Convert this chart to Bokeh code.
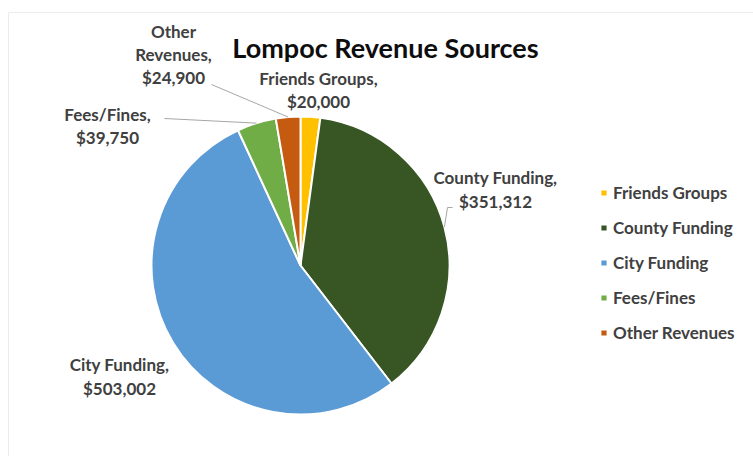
import numpy as np
from bokeh.plotting import figure
from bokeh.models import Range1d, Legend, LegendItem, ColumnDataSource, Label, Span
from bokeh.core.properties import value
from bokeh.embed import file_html
from bokeh.resources import INLINE

# ---- data ----
categories = ["Friends Groups", "County Funding", "City Funding", "Fees/Fines", "Other Revenues"]
values = [20000, 351312, 503002, 39750, 24900]
colors = ["#FFC000", "#375623", "#5B9BD5", "#70AD47", "#C55A11"]
chart_title = "Lompoc Revenue Sources"

# ---- layout (pixels) ----
W, H = 753, 456
LEFT, TOP = 8, 12
FW, FH = W - LEFT, H - TOP
CX, CY = 300 - LEFT, H - 265   # pie centre
R = 149
FONT = "Lato"
TXT = "#404040"

# label block centres as offsets from pie centre (screen px, y down)
label_off = [(18, -175.5), (195, -76), (-181, 111), (-193, -139.5), (-127, -211)]
label_wrap = [False, False, False, False, True]
# leader line start points (offsets from centre), None = no leader
leader_pts = [None, [(152, -58), (147, -58)], None, [(-136, -147)], [(-89, -181)]]

p = figure(width=W, height=H, output_backend="svg", toolbar_location=None,
           x_range=Range1d(0, FW), y_range=Range1d(0, FH),
           x_axis_type=None, y_axis_type=None,
           min_border_left=LEFT, min_border_right=0, min_border_bottom=0, min_border_top=TOP)
p.grid.visible = False
p.outline_line_color = None
p.background_fill_color = "white"
p.add_layout(Span(location=0, dimension="height", line_color="#d9d9d9", line_width=1))
p.add_layout(Span(location=FH, dimension="width", line_color="#d9d9d9", line_width=1))

vals = np.array(values, dtype=float)
frac = vals / vals.sum()
cum = np.concatenate([[0.0], np.cumsum(frac)])
start = np.pi / 2 - 2 * np.pi * cum[:-1]
end = np.pi / 2 - 2 * np.pi * cum[1:]
mid = (start + end) / 2

src = ColumnDataSource(dict(cat=categories, start=start, end=end, color=colors))
wr = p.wedge(x=CX, y=CY, radius=R, start_angle="start", end_angle="end",
             direction="clock", fill_color="color", line_color="white", line_width=2,
             source=src)

# leader lines
lxs, lys = [], []
for i, pts in enumerate(leader_pts):
    if pts is None:
        continue
    xs = [CX + dx for dx, dy in pts] + [CX + R * np.cos(mid[i])]
    ys = [CY - dy for dx, dy in pts] + [CY + R * np.sin(mid[i])]
    lxs.append(xs)
    lys.append(ys)
p.multi_line(xs=lxs, ys=lys, line_color="#a6a6a6", line_width=1)

# data labels
texts = []
for c, v, wflag in zip(categories, values, label_wrap):
    name = c.replace(" ", "\n") if wflag else c
    texts.append(f"{name},\n${v:,}")
lsrc = ColumnDataSource(dict(x=[CX + dx for dx, dy in label_off],
                             y=[CY - dy for dx, dy in label_off], t=texts))
p.text(x="x", y="y", text="t", source=lsrc, text_align="center", text_baseline="middle",
       text_font=value(FONT), text_font_style="bold", text_font_size="17px",
       text_color=TXT, text_line_height=1.1)

# title
p.add_layout(Label(x=385 - LEFT, y=H - 47, text=chart_title, text_align="center",
                   text_baseline="middle", text_font=FONT, text_font_style="bold",
                   text_font_size="27px", text_color="#0d0d0d"))

# legend
items = [LegendItem(label=c, renderers=[wr], index=i) for i, c in enumerate(categories)]
legend = Legend(items=items, location=(591, 113), orientation="vertical",
                glyph_width=9, glyph_height=9, label_height=20, spacing=14,
                padding=0, margin=0, border_line_color=None, background_fill_alpha=0,
                label_text_font=FONT, label_text_font_style="bold",
                label_text_font_size="17px", label_text_color=TXT, label_standoff=5)
p.add_layout(legend)

open("out.html", "w").write(file_html(p, INLINE))
